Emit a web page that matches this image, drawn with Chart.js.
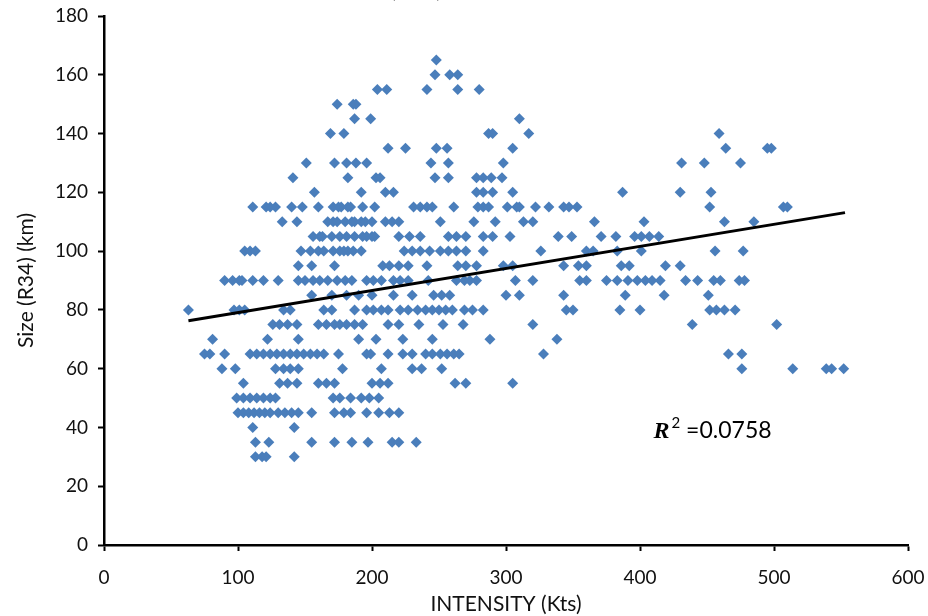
<!DOCTYPE html>
<html>
<head>
<meta charset="utf-8">
<title>Size (R34) vs Intensity</title>
<script src="https://cdn.jsdelivr.net/npm/chart.js@4.4.1/dist/chart.umd.min.js"></script>
<style>
  html, body { margin: 0; padding: 0; background: #fff; }
  #wrap { width: 928px; height: 616px; position: relative; }
</style>
</head>
<body>
<div id="wrap"><canvas id="chart" width="928" height="616"></canvas></div>
<script>
/* ── data ── */
const sizeLevels = [165, 160, 155, 150, 145, 140, 135, 130, 125, 120, 115, 110, 105, 100,
                    95, 90, 85, 80, 75, 70, 65, 60, 55, 50, 45, 40, 35, 30];

const intensityAtLevel = [
  [248],
  [247, 258, 264],
  [204, 211, 241, 264, 280],
  [174, 186, 188],
  [187, 199, 310],
  [169, 179, 287, 290, 317, 459],
  [212, 225, 248, 256, 305, 464, 495, 498],
  [151, 172, 181, 188, 196, 244, 257, 298, 431, 448, 475],
  [141, 182, 203, 206, 247, 257, 278, 283, 289, 297],
  [157, 192, 210, 216, 278, 283, 290, 305, 387, 430, 453],
  [111, 121, 124, 128, 140, 148, 160, 171, 175, 177, 182, 184, 193, 202, 231, 236, 241, 245,
   261, 279, 283, 287, 301, 308, 310, 322, 332, 343, 347, 353, 452, 507, 510],
  [133, 144, 167, 171, 174, 180, 185, 187, 192, 195, 200, 210, 215, 220, 251, 276, 292, 313,
   320, 366, 403, 463, 485],
  [156, 161, 163, 170, 176, 181, 187, 193, 196, 200, 202, 220, 228, 236, 257, 263, 270, 283,
   290, 303, 339, 349, 371, 382, 396, 401, 407, 414],
  [105, 109, 113, 147, 154, 160, 164, 171, 176, 179, 182, 186, 192, 224, 230, 236, 243, 251,
   257, 263, 270, 283, 326, 360, 365, 383, 401, 456, 477],
  [145, 155, 172, 208, 213, 220, 227, 241, 264, 270, 278, 298, 305, 343, 354, 360, 386, 392,
   419, 430],
  [90, 96, 101, 103, 111, 119, 130, 145, 150, 156, 161, 167, 174, 180, 185, 196, 201, 207, 216,
   221, 227, 242, 263, 269, 273, 278, 307, 320, 355, 360, 375, 383, 391, 398, 404, 409, 415,
   434, 443, 455, 460, 474, 478],
  [155, 170, 181, 190, 200, 216, 230, 246, 252, 258, 300, 310, 343, 389, 418, 451],
  [63, 97, 101, 105, 134, 139, 164, 170, 187, 196, 201, 207, 212, 221, 227, 234, 240, 245, 250,
   255, 260, 269, 275, 283, 345, 350, 385, 400, 452, 457, 463, 471],
  [126, 131, 137, 144, 160, 166, 172, 176, 181, 187, 193, 212, 220, 235, 253, 268, 320, 439, 502],
  [81, 122, 145, 190, 203, 223, 245, 288, 338],
  [75, 79, 90, 109, 114, 119, 124, 129, 134, 139, 144, 149, 154, 159, 164, 175, 196, 199, 212,
   223, 230, 240, 245, 251, 256, 261, 265, 328, 466, 476],
  [88, 98, 128, 134, 139, 145, 178, 207, 230, 237, 252, 476, 514, 539, 543, 552],
  [104, 131, 137, 144, 160, 166, 172, 200, 206, 212, 262, 270, 305],
  [99, 104, 109, 114, 119, 124, 128, 171, 176, 184, 192, 198, 205],
  [100, 104, 108, 112, 116, 120, 124, 130, 135, 140, 145, 155, 172, 179, 184, 196, 205, 213, 220],
  [111, 142],
  [113, 123, 155, 172, 185, 197, 215, 220, 233],
  [113, 118, 121, 142],
];

// linear trend line, end points as drawn
const trendIntensity = [63, 553];
const trendSize      = [76.3, 113.1];
const rSquared       = '0.0758';

const xTicks = [0, 100, 200, 300, 400, 500, 600];
const yTicks = [0, 20, 40, 60, 80, 100, 120, 140, 160, 180];

/* ── build datasets ── */
const points = [];
sizeLevels.forEach((s, i) => {
  intensityAtLevel[i].forEach((x) => points.push({ x, y: s }));
});
const trend = trendIntensity.map((x, i) => ({ x, y: trendSize[i] }));

const LABEL_FONT = "Lato, 'Open Sans', sans-serif";

/* ── R² note + clipped chart title ── */
const notesPlugin = {
  id: 'notes',
  afterDraw(chart) {
    const { ctx, scales: { x, y } } = chart;
    ctx.save();
    // title of the figure, cut off at the top edge
    ctx.fillStyle = '#000';
    ctx.font = "bold 22px " + LABEL_FONT;
    ctx.textAlign = 'center';
    ctx.textBaseline = 'alphabetic';
    ctx.fillText('(R34)', 416, -3);

    // R² annotation
    let px = x.getPixelForValue(410);
    const py = y.getPixelForValue(36.3);
    ctx.textAlign = 'left';
    ctx.font = "bold italic 24px 'Liberation Serif', serif";
    ctx.fillText('R', px, py);
    px += ctx.measureText('R').width + 2;
    ctx.font = "15px " + LABEL_FONT;
    ctx.fillText('2', px, py - 10);
    px += ctx.measureText('2').width + 6;
    ctx.font = "23px " + LABEL_FONT;
    ctx.fillText('=' + rSquared, px, py);
    ctx.restore();
  },
};

const axisCommon = {
  type: 'linear',
  border: { display: true, color: '#000', width: 2.5 },
  grid: {
    display: true,
    drawOnChartArea: false,
    drawTicks: true,
    tickLength: 6,
    tickColor: '#000',
    tickWidth: 2,
  },
};

new Chart(document.getElementById('chart').getContext('2d'), {
  type: 'scatter',
  data: {
    datasets: [
      {
        label: 'Trend',
        data: trend,
        showLine: true,
        borderColor: '#000',
        borderWidth: 3,
        pointRadius: 0,
        order: 0,
      },
      {
        label: 'Size (R34)',
        data: points,
        pointStyle: 'rectRot',
        pointRadius: 5.5,
        backgroundColor: '#4a7ebb',
        borderWidth: 0,
        order: 1,
      },
    ],
  },
  options: {
    responsive: false,
    animation: false,
    layout: { padding: { top: 16, right: 20, left: 0, bottom: 0 } },
    plugins: { legend: { display: false }, tooltip: { enabled: false } },
    scales: {
      x: {
        ...axisCommon,
        min: 0,
        max: 600,
        afterBuildTicks: (s) => { s.ticks = xTicks.map((v) => ({ value: v })); },
        afterFit: (s) => { s.height = 71; s.paddingRight = 0; },
        ticks: { color: '#111', padding: 15, font: { family: LABEL_FONT, size: 19 } },
        title: {
          display: true,
          text: 'INTENSITY (Kts)',
          color: '#111',
          font: { family: LABEL_FONT, size: 21 },
          padding: { top: 0, bottom: -1 },
        },
      },
      y: {
        ...axisCommon,
        min: 0,
        max: 180,
        afterBuildTicks: (s) => { s.ticks = yTicks.map((v) => ({ value: v })); },
        afterFit: (s) => { s.width = 104; s.paddingTop = 0; s.paddingBottom = 0; },
        ticks: { color: '#111', padding: 10, font: { family: LABEL_FONT, size: 19 } },
        title: {
          display: true,
          text: 'Size (R34) (km)',
          color: '#111',
          font: { family: LABEL_FONT, size: 21 },
          padding: { top: 14, bottom: 0 },
        },
      },
    },
  },
  plugins: [notesPlugin],
});
</script>
</body>
</html>
